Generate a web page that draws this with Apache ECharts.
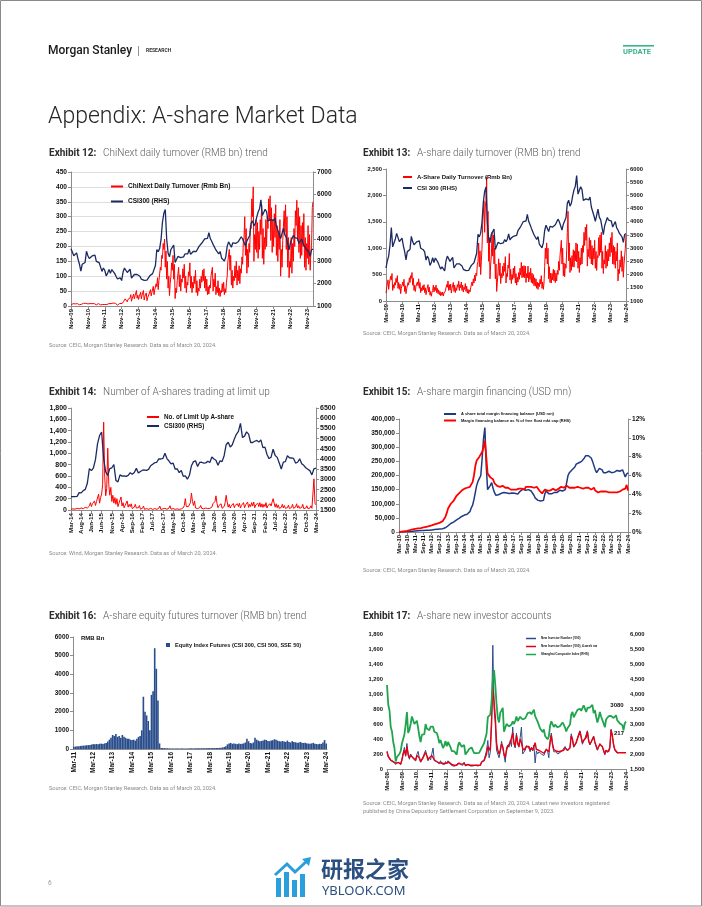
<!DOCTYPE html>
<html><head><meta charset="utf-8">
<script src="https://cdn.jsdelivr.net/npm/echarts/dist/echarts.min.js"></script>
<style>html,body{margin:0;padding:0;background:#fff}#c{width:702px;height:907px}</style>
</head><body><div id="c"></div>
<script>
// ---------------- DATA ----------------
// CSI300 monthly, Mar-09 .. Mar-24
const csi300Start = 'Mar-09';
const csi300 = [
 2250,2520,2700,3120,3780,3050,3100,3350,3560,3560,
 3250,3300,3380,3100,2870,2560,2870,2910,2950,3450,3250,3130,
 3080,3240,3220,3280,3000,3040,2940,2860,2550,2700,2600,2350,
 2460,2640,2460,2630,2600,2460,2330,2210,2290,2260,2140,2520,
 2700,2700,2500,2480,2650,2250,2250,2410,2450,2410,2470,2330,
 2200,2180,2150,2160,2160,2170,2350,2340,2450,2510,2810,3530,
 3430,3570,3980,4750,5150,5320,4000,3370,3200,3530,3570,3730,
 2950,2880,3220,3160,3170,3150,3200,3330,3250,3340,3540,3310,
 3390,3450,3460,3440,3490,3670,3740,3820,3840,4010,4000,4030,
 4280,4020,3900,3760,3800,3510,3520,3330,3440,3150,3170,3010,
 3200,3670,3870,3910,3630,3830,3840,3800,3810,3890,3830,4100,
 4000,3940,3690,3910,3870,4160,4700,4820,4590,4700,4980,5210,
 5350,5750,5050,5120,5330,5220,4810,4810,4870,4910,4830,4940,
 4560,4580,4220,4020,4090,4480,4170,4080,3800,3510,3850,3870,
 4160,4060,4050,4030,3800,3840,4010,3770,3690,3570,3500,3430,
 3220,3520,3550];

// Exhibit 12: ChiNext daily turnover (Rmb bn), half-monthly readings, Nov-09 .. Mar-24
const ex12Start = 'Nov-09';
const chinextTurnover = [
 3,6, 5,8,
 5,9, 7,11, 5,8, 6,10, 4,7, 3,6, 7,10, 9,13, 6,9, 11,15, 7,10, 5,8,
 6,9, 8,11, 5,8, 7,10, 4,6, 6,8, 7,10, 4,7, 3,5, 6,9, 5,8, 3,5,
 4,7, 8,11, 5,8, 9,12, 10,13, 6,9, 5,7, 3,5, 6,8, 4,6, 6,9, 11,16,
 15,24, 20,29, 14,22, 18,27, 28,38, 16,25, 30,40, 24,34, 38,52, 26,36, 22,31, 35,46,
 24,36, 38,52, 20,32, 32,44, 18,28, 28,40, 40,55, 34,46, 50,66, 38,54, 55,75, 65,95,
 55,85, 90,130, 120,170, 160,210, 190,225, 130,185, 90,150, 60,100, 35,75, 100,145, 120,170, 90,140,
 25,60, 45,85, 90,130, 65,105, 50,90, 80,125, 95,140, 60,100, 45,80, 70,115, 100,145, 60,100,
 45,80, 60,100, 75,120, 45,85, 35,60, 50,90, 60,100, 80,120, 85,125, 60,100, 50,90, 38,65,
 40,70, 60,100, 95,130, 50,90, 65,110, 38,65, 45,85, 35,60, 32,52, 45,75, 48,80, 38,58,
 45,80, 100,150, 150,190, 120,170, 70,120, 60,100, 85,135, 95,150, 70,120, 85,135, 75,125, 110,165,
 140,220, 230,300, 170,260, 110,190, 130,210, 180,270, 260,360, 300,400, 150,240, 190,290, 180,280, 160,250,
 190,290, 240,340, 160,260, 140,230, 190,290, 200,300, 260,360, 290,370, 220,330, 180,290, 200,310, 230,340,
 170,270, 150,250, 190,290, 100,190, 130,220, 220,320, 250,340, 190,300, 130,230, 95,150, 130,230, 110,210,
 150,260, 200,320, 270,355, 220,330, 180,300, 160,270, 170,280, 200,310, 130,230, 120,210, 160,270, 140,240,
 120,180, 200,330, 350];
const ex12Ticks = ['Nov-09','Nov-10','Nov-11','Nov-12','Nov-13','Nov-14','Nov-15','Nov-16','Nov-17','Nov-18','Nov-19','Nov-20','Nov-21','Nov-22','Nov-23'];

// Exhibit 13: A-share daily turnover (Rmb bn), half-monthly readings, Mar-09 .. Mar-24
const ashareTurnover = [
 150,250, 280,400, 220,330, 350,470, 400,520, 200,310, 240,350, 300,430, 350,480, 240,350,
 220,320, 140,240, 250,360, 280,410, 180,290, 140,230, 240,350, 300,440, 350,480, 430,540, 300,430, 200,300,
 180,280, 250,360, 290,420, 240,350, 160,250, 190,290, 210,310, 160,250, 120,190, 200,310, 170,260, 110,180,
 90,160, 200,300, 170,260, 200,300, 160,240, 140,210, 120,180, 100,160, 110,170, 95,150, 120,190, 200,310,
 260,380, 200,310, 210,320, 150,240, 240,350, 180,300, 160,250, 200,310, 260,380, 200,310, 250,360, 200,300,
 170,260, 220,330, 180,280, 150,220, 140,210, 170,250, 250,360, 290,420, 340,490, 380,530, 480,700, 750,1100,
 650,950, 500,750, 1000,1450, 1450,1900, 1300,1800, 1900,2350, 1100,1700, 750,1200, 420,700, 850,1300, 850,1250, 700,1000,
 420,700, 180,350, 550,800, 480,720, 330,520, 440,660, 480,720, 560,840, 340,520, 460,680, 620,900, 400,600,
 330,500, 410,620, 440,660, 340,520, 300,450, 360,540, 410,620, 490,730, 440,660, 450,670, 440,660, 350,520,
 440,660, 360,540, 410,620, 350,530, 330,500, 290,440, 280,420, 240,360, 220,340, 270,410, 320,480, 240,360,
 220,340, 650,1000, 800,1100, 700,1000, 420,650, 350,530, 340,520, 400,600, 380,580, 350,530, 380,580, 500,750,
 580,850, 850,1150, 700,1000, 480,720, 460,700, 620,950, 1300,1700, 760,1100, 540,820, 580,860, 650,970, 640,950,
 760,1100, 740,1080, 620,940, 540,820, 680,1000, 700,1050, 920,1300, 1050,1400, 1150,1450, 660,980, 840,1200, 800,1150,
 700,1050, 680,1000, 800,1150, 620,940, 580,860, 820,1200, 860,1250, 920,1300, 620,940, 520,780, 700,1050, 620,940,
 660,980, 760,1100, 840,1200, 920,1300, 700,1050, 690,1020, 620,940, 760,1100, 380,600, 520,780, 640,950, 560,840,
 450,700, 700,1000, 1250];
const ex13Ticks = ['Mar-09','Mar-10','Mar-11','Mar-12','Mar-13','Mar-14','Mar-15','Mar-16','Mar-17','Mar-18','Mar-19','Mar-20','Mar-21','Mar-22','Mar-23','Mar-24'];

// Exhibit 14: number of limit-up A-shares, half-monthly readings, Mar-14 .. Mar-24
const ex14Start = 'Mar-14';
const limitUp = [
 15,40, 20,55, 15,35, 30,60, 20,45, 35,65, 25,55, 45,80, 35,65, 70,130,
 60,110, 90,160, 80,150, 160,280, 120,220, 280,450, 1550,600, 250,380, 1090,450, 260,400, 150,260, 120,220,
 100,200, 60,120, 150,230, 70,130, 40,80, 90,160, 50,100, 60,110, 25,60, 50,100, 35,70, 40,80,
 15,45, 30,70, 12,35, 25,60, 12,35, 30,65, 10,30, 25,55, 12,35, 30,70, 10,30, 20,50,
 30,65, 12,35, 35,75, 15,40, 25,60, 12,35, 20,50, 10,30, 20,45, 40,80, 200,60, 30,60,
 60,130, 300,150, 80,160, 35,70, 25,50, 40,80, 30,60, 20,40, 35,70, 25,50, 30,60, 50,110,
 80,150, 250,120, 40,80, 50,110, 30,65, 60,130, 260,140, 50,100, 35,75, 55,115, 40,85, 50,110,
 60,120, 35,80, 60,130, 40,90, 70,140, 45,100, 60,130, 70,140, 40,90, 55,120, 60,130, 50,110,
 45,100, 60,130, 35,80, 50,110, 70,140, 200,120, 50,110, 40,90, 30,65, 45,100, 35,80, 30,65,
 40,85, 25,55, 45,100, 30,65, 50,110, 35,75, 30,65, 45,100, 25,55, 35,75, 25,55, 35,75,
 30,65, 550,120, 90];
const ex14Ticks = ['Mar-14','Aug-14','Jan-15','Jun-15','Nov-15','Apr-16','Sep-16','Feb-17','Jul-17','Dec-17','May-18','Oct-18','Mar-19','Aug-19','Jan-20','Jun-20','Nov-20','Apr-21','Sep-21','Feb-22','Jul-22','Dec-22','May-23','Oct-23','Mar-24'];

// Exhibit 15: margin financing, Mar-10 .. Mar-24
const ex15Start = 'Mar-10';
const marginBalance = [
 100,200,350,500,700,900,1200,1500,1800,2200,
 2600,3000,3500,4000,4300,4600,5000,5300,5500,5800,6000,6200,
 6500,7000,7500,8000,8500,9000,9500,10000,10500,11000,11500,13000,
 15000,18000,22000,25000,30000,32000,35000,38000,42000,45000,48000,50000,
 55000,58000,60000,62000,63000,65000,72000,85000,95000,115000,140000,165000,
 180000,190000,200000,260000,330000,370000,235000,150000,145000,165000,175000,155000,
 140000,130000,128000,132000,135000,137000,138000,140000,135000,138000,140000,136000,
 135000,138000,140000,137000,132000,134000,138000,145000,150000,152000,150000,148000,
 152000,150000,148000,145000,140000,130000,120000,115000,112000,108000,110000,106000,
 112000,135000,145000,140000,135000,137000,135000,138000,140000,138000,140000,145000,
 148000,155000,145000,148000,150000,175000,200000,210000,215000,220000,225000,230000,
 240000,240000,245000,245000,250000,255000,262000,270000,268000,270000,265000,262000,
 250000,235000,220000,210000,215000,225000,225000,220000,210000,205000,210000,210000,
 215000,215000,210000,215000,212000,215000,218000,220000,215000,210000,220000,225000,
 195000,205000,210000];
const marginPct = [
 0.0,0.02,0.04,0.06,0.08,0.1,0.13,0.16,0.2,0.24,
 0.28,0.3,0.33,0.36,0.38,0.4,0.42,0.45,0.48,0.52,0.55,0.6,
 0.62,0.66,0.7,0.75,0.8,0.85,0.9,0.95,1.0,1.05,1.15,1.3,
 1.6,2.0,2.5,2.7,3.0,3.1,3.3,3.5,3.8,4.0,4.1,4.3,
 4.4,4.5,4.6,4.5,4.7,4.6,4.8,4.9,5.3,6.0,7.0,7.6,
 7.8,8.0,8.2,8.5,9.0,9.7,8.0,6.2,6.0,5.8,6.0,5.6,
 5.2,5.0,4.9,4.8,4.8,4.8,4.9,4.8,4.7,4.8,4.7,4.6,
 4.5,4.4,4.5,4.4,4.5,4.6,4.6,4.7,4.6,4.7,4.5,4.8,
 4.9,4.8,4.7,4.8,5.0,4.7,4.6,4.8,4.7,4.4,4.3,4.1,
 4.0,4.5,4.5,4.4,4.5,4.4,4.5,4.6,4.5,4.4,4.5,4.6,
 4.7,4.8,4.6,4.7,4.8,4.9,4.8,4.7,4.8,4.7,4.8,4.7,
 4.6,4.8,4.7,4.7,4.6,4.6,4.5,4.7,4.6,4.7,4.6,4.5,
 4.5,4.7,4.4,4.3,4.2,4.3,4.3,4.2,4.3,4.1,4.3,4.3,
 4.2,4.1,4.2,4.3,4.2,4.3,4.2,4.3,4.3,4.2,4.5,4.7,
 4.6,5.0,4.4];
const ex15Ticks = ['Mar-10','Sep-10','Mar-11','Sep-11','Mar-12','Sep-12','Mar-13','Sep-13','Mar-14','Sep-14','Mar-15','Sep-15','Mar-16','Sep-16','Mar-17','Sep-17','Mar-18','Sep-18','Mar-19','Sep-19','Mar-20','Sep-20','Mar-21','Sep-21','Mar-22','Sep-22','Mar-23','Sep-23','Mar-24'];

// Exhibit 16: equity index futures turnover (RMB bn), Mar-11 .. Mar-24
const ex16Start = 'Mar-11';
const futuresTurnover = [
 120,130,150,140,160,170,180,190,200,210,
 220,240,260,250,270,260,280,290,270,300,320,400,
 500,600,750,700,800,650,700,600,750,650,600,550,
 550,500,480,500,450,550,650,700,1000,2800,2000,1800,
 1500,1000,2900,3100,5400,4300,2600,300,60,50,50,40,
 40,35,30,35,30,30,35,30,30,35,30,30,
 30,35,40,35,30,35,40,45,40,40,45,40,
 45,50,45,50,55,50,60,55,60,70,80,110,
 150,250,300,320,280,300,280,260,290,270,280,300,
 350,550,420,320,300,350,600,500,450,420,430,450,
 500,480,430,420,450,470,520,500,450,420,400,430,
 400,380,450,380,350,420,380,360,330,340,380,330,
 320,330,300,290,280,300,330,280,270,260,280,270,
 350,480,300];
const ex16Ticks = ['Mar-11','Mar-12','Mar-13','Mar-14','Mar-15','Mar-16','Mar-17','Mar-18','Mar-19','Mar-20','Mar-21','Mar-22','Mar-23','Mar-24'];

// Exhibit 17: new investor accounts, Mar-08 .. Mar-24
const ex17Start = 'Mar-08';
const newInvestors = [
 240,160,165,110,90,105,90,60,55,95,
 120,55,130,220,290,170,340,180,130,200,220,140,
 165,105,195,235,140,90,115,165,170,250,170,110,
 160,120,200,280,110,90,95,80,70,110,70,60,
 60,100,70,110,90,60,50,40,50,40,50,80,
 90,60,60,50,90,40,50,60,70,40,60,40,
 40,50,70,40,30,50,100,110,120,130,250,380,
 150,220,700,1650,800,600,250,200,150,230,370,280,
 180,90,280,320,290,380,300,560,330,280,480,330,
 290,420,560,200,220,250,310,330,280,230,290,240,
 320,80,240,200,230,250,200,200,180,200,270,240,
 150,380,480,320,230,240,230,200,220,220,230,250,
 240,300,320,240,220,290,470,390,290,320,360,370,
 470,510,420,330,380,410,430,510,370,320,360,340,
 440,350,340,250,240,340,320,290,240,190,250,220,
 220,290,530,440,320,250,230,210,217,null,null,null,
 null,null,null];
const newInvestorsMA = [
 230,170,150,120,100,95,100,80,70,85,
 110,70,120,200,250,180,300,200,150,180,200,150,
 150,120,180,200,150,100,120,150,160,220,180,120,
 150,130,180,200,120,100,100,90,80,100,80,70,
 70,90,80,100,90,70,60,50,50,50,50,70,
 80,70,60,60,80,50,50,60,60,50,60,50,
 50,50,60,50,40,50,90,100,110,120,200,300,
 280,250,600,1100,900,700,350,250,200,250,330,300,
 200,150,250,300,300,350,330,480,350,300,450,350,
 300,400,350,280,250,260,300,320,300,250,280,250,
 300,350,260,240,250,250,230,220,210,230,260,250,
 230,350,450,330,260,250,240,220,230,230,240,250,
 250,280,300,250,230,280,440,400,300,320,350,360,
 450,500,430,350,380,400,420,500,380,330,360,350,
 430,360,350,260,250,330,320,300,250,200,250,230,
 230,280,520,450,330,260,240,220,217,217,217,217,
 217,217,217];
const shComposite = [
 4300,3650,3450,2900,2750,2400,2200,1750,1900,1850,
 2000,2100,2350,2500,2650,2980,3400,2700,2800,3000,3250,3280,
 3000,3050,3110,2870,2600,2400,2640,2650,2660,3000,2850,2810,
 2790,2910,2930,2910,2740,2760,2700,2570,2360,2470,2330,2200,
 2290,2430,2260,2400,2370,2230,2100,2050,2090,2070,1980,2270,
 2390,2360,2240,2180,2300,1980,1990,2100,2170,2140,2220,2120,
 2030,2060,2030,2030,2040,2050,2200,2220,2360,2420,2680,3230,
 3210,3310,3750,4440,4800,4300,3660,3210,3050,3380,3450,3540,
 2740,2690,3000,2940,2920,2930,2980,3090,3000,3100,3250,3100,
 3160,3240,3220,3150,3120,3190,3270,3360,3350,3390,3320,3310,
 3480,3260,3170,3080,3100,2850,2880,2730,2820,2600,2590,2490,
 2580,2940,3090,3080,2900,2980,2930,2890,2910,2930,2870,3050,
 2980,2880,2750,2860,2850,2980,3310,3400,3220,3220,3390,3470,
 3480,3510,3440,3450,3620,3590,3400,3540,3570,3550,3560,3640,
 3360,3460,3250,3050,3190,3400,3250,3200,3020,2890,3150,3090,
 3260,3280,3270,3320,3200,3200,3290,3120,3110,3020,3030,2970,
 2790,3020,3080];
const ex17Ticks = ['Mar-08','Mar-09','Mar-10','Mar-11','Mar-12','Mar-13','Mar-14','Mar-15','Mar-16','Mar-17','Mar-18','Mar-19','Mar-20','Mar-21','Mar-22','Mar-23','Mar-24'];
const ex17Labels = ['3080','217'];

// ---------------- HELPERS ----------------
const MON=['Jan','Feb','Mar','Apr','May','Jun','Jul','Aug','Sep','Oct','Nov','Dec'];
function months(start,n){
  let m=MON.indexOf(start.slice(0,3)), y=+start.slice(4); const out=[];
  for(let i=0;i<n;i++){out.push(MON[m]+'-'+String(y).padStart(2,'0')); m++; if(m===12){m=0;y++;}}
  return out;
}
function halfMonths(start,n){ // n half-month slots
  const ms=months(start,Math.ceil(n/2)); const out=[];
  for(let i=0;i<n;i++){out.push(ms[Math.floor(i/2)]+(i%2?' H2':' H1'));}
  return out;
}
function idxOf(start){const all=months(csi300Start,csi300.length);return all.indexOf(start);}
const RED='#FF0000', NAVY='#1C2A62', AX='#8c8c8c', FF='"Liberation Sans", Arial, sans-serif';
const comma=v=>v.toLocaleString('en-US');
const plain=v=>String(v);

function xCat(grid,cats,ticks,fs,gap){
  const f=(i,v)=>ticks.indexOf(v)>=0;
  return {type:'category',gridIndex:grid,data:cats,boundaryGap:!!gap,
    axisLine:{lineStyle:{color:AX,width:1}},
    axisTick:{interval:f,length:3,alignWithLabel:true,lineStyle:{color:AX}},
    axisLabel:{interval:f,rotate:90,fontSize:fs,fontWeight:'bold',color:'#111',fontFamily:FF,margin:3}};
}
function xHidden(grid,cats){
  return {type:'category',gridIndex:grid,data:cats,boundaryGap:false,show:false,position:'bottom'};
}
function yVal(grid,pos,min,max,interval,fmt,fs,split,line){
  return {type:'value',gridIndex:grid,position:pos,min:min,max:max,interval:interval,
    axisLine:{show:line!==false,lineStyle:{color:AX,width:1}},
    axisTick:{show:line!==false,length:3,lineStyle:{color:AX}},
    splitLine:{show:!!split,lineStyle:{color:'#d6d6d6',width:0.8}},
    axisLabel:{formatter:fmt,fontSize:fs,fontWeight:'bold',color:'#111',fontFamily:FF,margin:4}};
}
function line(name,x,y,data,color,w,z){
  return {name:name,type:'line',xAxisIndex:x,yAxisIndex:y,data:data,symbol:'none',connectNulls:false,
    lineStyle:{color:color,width:w},itemStyle:{color:color},z:z,animation:false};
}

const c12=months(ex12Start,csi300.length-idxOf(ex12Start));
const h12=halfMonths(ex12Start,chinextTurnover.length);
const c13=months(csi300Start,csi300.length);
const h13=halfMonths(csi300Start,ashareTurnover.length);
const c14=months(ex14Start,csi300.length-idxOf(ex14Start));
const h14=halfMonths(ex14Start,limitUp.length);
const c15=months(ex15Start,marginBalance.length);
const c16=months(ex16Start,futuresTurnover.length);
const c17=months(ex17Start,shComposite.length);

// ---------------- TEXT ----------------
function txt(x,y,text,size,weight,color,family,extra){
  return Object.assign({type:'text',x:x,y:y,silent:true,
    style:Object.assign({text:text,fill:color,fontSize:size,fontWeight:weight,fontFamily:family||'Roboto',verticalAlign:'middle'},extra||{})});
}
function exTitle(x,y,num,rest){
  return {type:'text',x:x,y:y,silent:true,style:{text:'{b|Exhibit '+num+':}  {n|'+rest+'}',verticalAlign:'middle',
    rich:{b:{fontSize:10,fontWeight:'bold',fill:'#2b2b2b',fontFamily:'Roboto'},n:{fontSize:10,fontWeight:300,fill:'#5a5a5a',fontFamily:'Roboto'}}}};
}
const SRC='Source: CEIC, Morgan Stanley Research. Data as of March 20, 2024.';
const gfx=[
  {type:'rect',shape:{x:0.5,y:0.5,width:701,height:905.5},style:{fill:'none',stroke:'#8a8a8a',lineWidth:1},silent:true},
  txt(48,51,'Morgan Stanley',12,500,'#1a1a1a','Roboto'),
  {type:'rect',shape:{x:138,y:46,width:0.8,height:10},style:{fill:'#777'},silent:true},
  txt(146,51,'RESEARCH',5,'bold','#333','Roboto',{letterSpacing:0.3}),
  {type:'rect',shape:{x:623,y:45,width:31,height:1.6},style:{fill:'#3BB38A'},silent:true},
  txt(623,52,'UPDATE',7.5,'bold','#3BB38A','Roboto'),
  txt(48,117,'Appendix: A-share Market Data',23,300,'#262626','Roboto'),
  exTitle(49,153,'12','ChiNext daily turnover (RMB bn) trend'),
  exTitle(363,153,'13','A-share daily turnover (RMB bn) trend'),
  exTitle(49,392,'14','Number of A-shares trading at limit up'),
  exTitle(363,392,'15','A-share margin financing (USD mn)'),
  exTitle(49,616,'16','A-share equity futures turnover (RMB bn) trend'),
  exTitle(363,616,'17','A-share new investor accounts'),
  txt(49,346,SRC,5.6,'normal','#8a8a8a'),
  txt(363,334,SRC,5.6,'normal','#8a8a8a'),
  txt(49,554,'Source: Wind, Morgan Stanley Research. Data as of March 20, 2024.',5.6,'normal','#8a8a8a'),
  txt(363,571,SRC,5.6,'normal','#8a8a8a'),
  txt(49,789,SRC,5.6,'normal','#8a8a8a'),
  txt(363,804,'Source: CEIC, Morgan Stanley Research. Data as of March 20, 2024. Latest new investors registered',5.6,'normal','#8a8a8a'),
  txt(363,812,'published by China Depository Settlement Corporation on September 9, 2023.',5.6,'normal','#8a8a8a'),
  txt(81,638,'RMB Bn',6,'bold','#111',FF),
  txt(48,883,'6',6.5,'normal','#999'),
  // watermark logo
  {type:'rect',shape:{x:276,y:878,width:5,height:19},style:{fill:'#2A9FDB'},silent:true},
  {type:'rect',shape:{x:284,y:872,width:5,height:25},style:{fill:'#2A9FDB'},silent:true},
  {type:'rect',shape:{x:292,y:880,width:5,height:17},style:{fill:'#2A9FDB'},silent:true},
  {type:'rect',shape:{x:300,y:874,width:5,height:23},style:{fill:'#2A9FDB'},silent:true},
  {type:'polyline',shape:{points:[[275,875],[287,864],[295,872],[308,860]]},style:{stroke:'#2A9FDB',lineWidth:3,fill:'none'},silent:true},
  {type:'polygon',shape:{points:[[302,859],[311,857],[309,866]]},style:{fill:'#2A9FDB'},silent:true},
  txt(321,869,'研报之家',22,'bold','#2B4F80','"Noto Sans CJK SC"'),
  txt(322,891,'YBLOOK.COM',13,'normal','#2B4F80','"Noto Sans"')
];

// ---------------- OPTION ----------------
const legTxt=(fs)=>({fontSize:fs,fontWeight:'bold',fontFamily:FF,color:'#111'});
const option={
  animation:false,
  grid:[
    {left:71,top:172,width:242,height:134},
    {left:386,top:169,width:240,height:132},
    {left:71,top:408,width:245,height:102},
    {left:399,top:419,width:229,height:113},
    {left:73,top:637,width:254,height:112},
    {left:387,top:634,width:239,height:135}
  ],
  xAxis:[
    xCat(0,c12,ex12Ticks,6),
    xCat(1,c13,ex13Ticks,5.8),
    xCat(2,c14,ex14Ticks,6.2),
    xCat(3,c15,ex15Ticks,5.8),
    xCat(4,c16,ex16Ticks,6.5,true),
    xCat(5,c17,ex17Ticks,5.8),
    xHidden(0,h12),
    xHidden(1,h13),
    xHidden(2,h14)
  ],
  yAxis:[
    yVal(0,'left',0,450,50,plain,6.6,true),
    yVal(0,'right',1000,7000,1000,plain,6.6,false),
    yVal(1,'left',0,2500,500,comma,5.8,false),
    yVal(1,'right',1000,6000,500,plain,5.8,false),
    yVal(2,'left',0,1800,200,comma,7,false),
    yVal(2,'right',1500,6500,500,plain,7,false),
    yVal(3,'left',0,400000,50000,comma,6.6,false),
    yVal(3,'right',0,12,2,'{value}%',6.6,false),
    yVal(4,'left',0,6000,1000,plain,6.4,false),
    yVal(5,'left',0,1800,200,comma,5.8,false,false),
    yVal(5,'right',1500,6000,500,comma,5.8,false,false)
  ],
  legend:[
    {data:['ChiNext Daily Turnover (Rmb Bn)','CSI300 (RHS)'],left:106,top:178,orient:'vertical',icon:'rect',itemWidth:12,itemHeight:2,itemGap:8,textStyle:legTxt(6.5)},
    {data:['A-Share Daily Turnover (Rmb Bn)','CSI 300 (RHS)'],left:398,top:169,orient:'vertical',icon:'rect',itemWidth:9,itemHeight:2,itemGap:5,textStyle:legTxt(6)},
    {data:['No. of Limit Up A-share','CSI300 (RHS) '],left:142,top:409,orient:'vertical',icon:'rect',itemWidth:12,itemHeight:2,itemGap:3,textStyle:legTxt(6.3)},
    {data:['A share total margin financing balance (USD mn)','Margin financing balance as % of free float mkt cap (RHS)'],left:439,top:407,orient:'vertical',icon:'rect',itemWidth:12,itemHeight:2,itemGap:2.5,textStyle:legTxt(4)},
    {data:['Equity Index Futures (CSI 300, CSI 500, SSE 50)'],left:161,top:637,orient:'vertical',icon:'rect',itemWidth:4,itemHeight:4,itemGap:2,textStyle:legTxt(5.6)},
    {data:["New Investor Number ('000)","New Investor Number ('000), 4-week ma",'Shanghai Composite Index (RHS)'],left:521,top:632,orient:'vertical',icon:'rect',itemWidth:10,itemHeight:1.5,itemGap:5,textStyle:legTxt(3)}
  ],
  graphic:gfx,
  series:[
    line('ChiNext Daily Turnover (Rmb Bn)',6,0,chinextTurnover,RED,1,2),
    line('CSI300 (RHS)',0,1,csi300.slice(idxOf(ex12Start)),NAVY,1.3,3),
    line('A-Share Daily Turnover (Rmb Bn)',7,2,ashareTurnover,RED,1,2),
    line('CSI 300 (RHS)',1,3,csi300,NAVY,1.3,3),
    line('No. of Limit Up A-share',8,4,limitUp,RED,1,2),
    line('CSI300 (RHS) ',2,5,csi300.slice(idxOf(ex14Start)),NAVY,1.3,3),
    line('A share total margin financing balance (USD mn)',3,6,marginBalance,'#1F3A84',1.5,2),
    line('Margin financing balance as % of free float mkt cap (RHS)',3,7,marginPct,RED,1.8,3),
    {name:'Equity Index Futures (CSI 300, CSI 500, SSE 50)',type:'bar',xAxisIndex:4,yAxisIndex:8,data:futuresTurnover,
      barCategoryGap:'0%',itemStyle:{color:'#2A4E8C'},animation:false},
    line("New Investor Number ('000)",5,9,newInvestors,'#2E4B8C',1,2),
    line("New Investor Number ('000), 4-week ma",5,9,newInvestorsMA,'#E60012',1.4,3),
    Object.assign(line('Shanghai Composite Index (RHS)',5,10,shComposite,'#1FA54E',1.8,4),{
      markPoint:{symbol:'circle',symbolSize:0,animation:false,
        data:[{coord:[c17[c17.length-1],shComposite[shComposite.length-1]],label:{show:true,formatter:ex17Labels[0],offset:[-9,-16],fontSize:6,fontWeight:'bold',color:'#111',fontFamily:FF}}]}}),
    Object.assign(line('_ma_label',5,9,[],'#E60012',1,1),{
      markPoint:{symbol:'circle',symbolSize:0,animation:false,
        data:[{coord:[c17[c17.length-1],newInvestorsMA[newInvestorsMA.length-1]],label:{show:true,formatter:ex17Labels[1],offset:[-7,-19],fontSize:6,fontWeight:'bold',color:'#111',fontFamily:FF}}]}})
  ]
};
const chart=echarts.init(document.getElementById('c'),null,{renderer:'canvas'});
chart.setOption(option);
</script></body></html>
